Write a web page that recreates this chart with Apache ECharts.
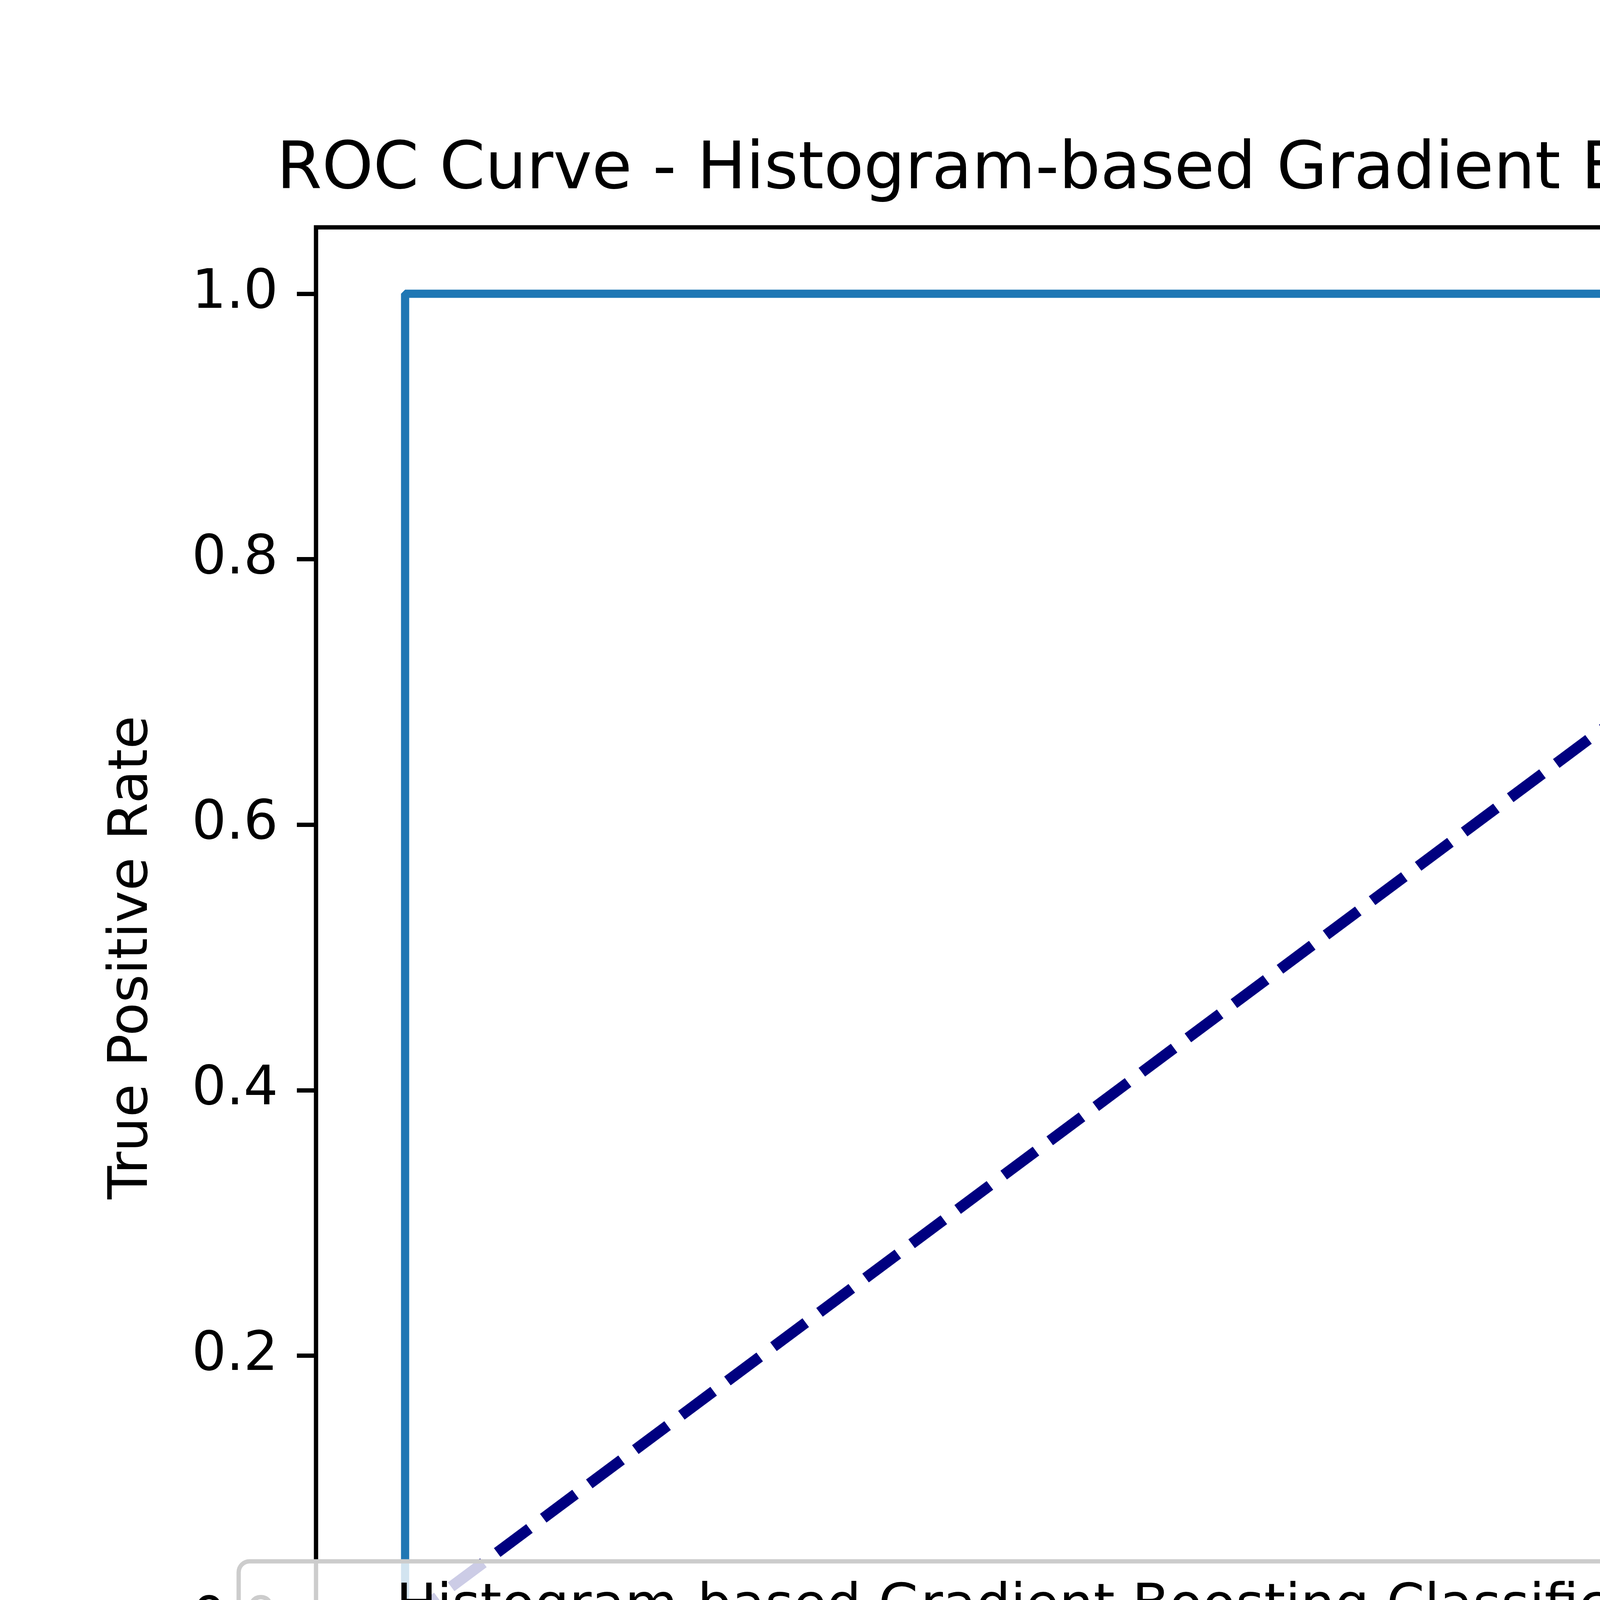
<!DOCTYPE html>
<html><head><meta charset="utf-8">
<script src="https://cdn.jsdelivr.net/npm/echarts@6/dist/echarts.min.js"></script>
<style>html,body{margin:0;padding:0;background:#fff}#c{width:6400px;height:4800px}</style>
</head><body><div id="c"></div>
<script>
const titleText = 'ROC Curve - Histogram-based Gradient Boosting Classification';
const rocName = 'Histogram-based Gradient Boosting Classification (AUC = 100.00)';
const fpr = [0, 0, 1];
const tpr = [0, 1, 1];
const diagX = [0, 1];
const diagY = [0, 1];
const ticks = [0, 0.2, 0.4, 0.6, 0.8, 1.0];
const font = 'DejaVu Sans';
const chart = echarts.init(document.getElementById('c'), null, {renderer: 'canvas'});
function axis(name, gap) {
  return {
    type: 'value', min: -0.05, max: 1.05, name: name, nameLocation: 'middle', nameGap: gap,
    nameTextStyle: {fontFamily: font, fontSize: 139, color: '#000'},
    axisLine: {show: false, onZero: false}, splitLine: {show: false},
    axisTick: {show: true, inside: false, length: 49, lineStyle: {color: '#000', width: 11}, customValues: ticks},
    axisLabel: {show: true, margin: 97, fontFamily: font, fontSize: 139, color: '#000', customValues: ticks,
      formatter: v => Number(v).toFixed(1)}
  };
}
chart.setOption({
  animation: false,
  backgroundColor: '#fff',
  title: {text: titleText, left: 3317, textAlign: 'center', top: 350,
    textStyle: {fontFamily: font, fontSize: 167, fontWeight: 'normal', color: '#000'}},
  grid: {left: 809, top: 582, width: 5017, height: 3738, show: true, borderColor: '#000', borderWidth: 11, backgroundColor: 'transparent'},
  xAxis: axis('False Positive Rate', 290),
  yAxis: axis('True Positive Rate', 400),
  legend: {
    left: 611, top: 3997, orient: 'vertical', data: [rocName],
    itemWidth: 298, itemHeight: 21, itemGap: 10, padding: [50, 55, 50, 50],
    backgroundColor: 'rgba(255,255,255,0.8)', borderColor: '#cccccc', borderWidth: 11, borderRadius: 28,
    textStyle: {fontFamily: font, fontSize: 139, color: '#000', padding: [0, 0, 0, 50]},
    icon: 'rect', itemStyle: {color: '#1f77b4'}
  },
  series: [
    {name: rocName, type: 'line', data: fpr.map((x, i) => [x, tpr[i]]), showSymbol: false, symbol: 'none',
      lineStyle: {color: '#1f77b4', width: 21}, itemStyle: {color: '#1f77b4'}, z: 2},
    {name: 'diag', type: 'line', data: diagX.map((x, i) => [x, diagY[i]]), showSymbol: false, symbol: 'none',
      lineStyle: {color: '#000080', width: 28, type: [103, 44]}, z: 3}
  ]
});
</script></body></html>
